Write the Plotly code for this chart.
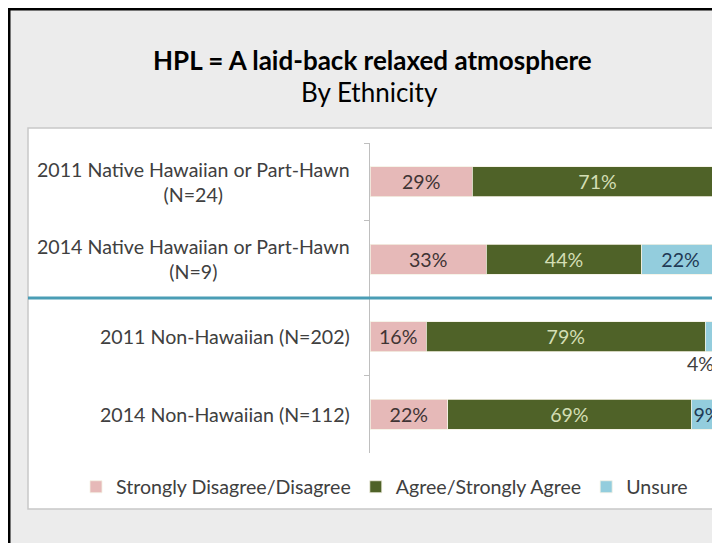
import plotly.graph_objects as go

# ---- data ----
categories = [
    "2011 Native Hawaiian or Part-Hawn<br>(N=24)",
    "2014 Native Hawaiian or Part-Hawn<br>(N=9)",
    "2011 Non-Hawaiian (N=202)",
    "2014 Non-Hawaiian (N=112)",
]
disagree = [29, 33, 16, 22]
agree = [71, 44, 79, 69]
unsure = [0, 22, 4, 9]
series_names = ["Strongly Disagree/Disagree", "Agree/Strongly Agree", "Unsure"]
title_text = "HPL = A laid-back relaxed atmosphere"
subtitle_text = "By Ethnicity"

# ---- geometry (page pixels; the page body has an 8px margin) ----
OFF = 8
W, H = 720 - OFF, 543 - OFF
L, R, T, B = 370 - OFF, 720 - OFF, 143 - OFF, 453 - OFF
def px(x):  # page pixel x -> paper
    return (x - OFF - L) / (R - L)
def py(y):  # page pixel y -> paper
    return (B - (y - OFF)) / (B - T)

FONT = "Lato"
FS = 19.6
colors = ["#E6B9B8", "#4F6228", "#93CDDD"]
text_colors = ["#3F3434", "#D3DEB4", "#1F3A55"]

fig = go.Figure()
vals = [disagree, agree, unsure]
for i, (name, v) in enumerate(zip(series_names, vals)):
    texts = []
    for val in v:
        if val == 0 or (i == 2 and val < 5):
            texts.append("")
        else:
            texts.append(f"{val}%")
    fig.add_trace(go.Bar(
        y=categories, x=v, name=name, orientation="h",
        marker=dict(color=colors[i], line=dict(color="#F4F1E4", width=0.8)),
        text=texts, textposition="inside", insidetextanchor="middle",
        textangle=0, constraintext="none",
        textfont=dict(family=FONT, size=FS, color=text_colors[i]),
        hoverinfo="skip",
    ))

annotations = []
# small Unsure value shown below its bar
for j, val in enumerate(unsure):
    if 0 < val < 5:
        annotations.append(dict(
            x=disagree[j] + agree[j] + val / 2, y=categories[j], xref="x", yref="y",
            text=f"{val}%", showarrow=False, yshift=-27, xshift=-12,
            font=dict(family=FONT, size=FS, color="#3F3F3F"),
        ))
# category labels (centered multi-line)
for c in categories:
    annotations.append(dict(
        x=px(352), y=c, xref="paper", yref="y", xanchor="right", yanchor="middle",
        text=c, showarrow=False, align="center",
        font=dict(family=FONT, size=FS, color="#404040"),
    ))
# title + subtitle
annotations.append(dict(
    x=px(372), y=py(60), xref="paper", yref="paper", xanchor="center", yanchor="middle",
    text=f"<b>{title_text}</b>", showarrow=False,
    font=dict(family=FONT, size=26, color="#000000"),
))
annotations.append(dict(
    x=px(369), y=py(92), xref="paper", yref="paper", xanchor="center", yanchor="middle",
    text=subtitle_text, showarrow=False,
    font=dict(family=FONT, size=26, color="#000000"),
))

shapes = [
    # white panel
    dict(type="rect", xref="paper", yref="paper", x0=px(28), x1=px(730), y0=py(509), y1=py(128),
         fillcolor="white", line=dict(color="#C8C8C8", width=1.5), layer="below"),
    # separator line between groups
    dict(type="line", xref="paper", yref="y", x0=px(28), x1=px(730), y0=1.5, y1=1.5,
         line=dict(color="#4A9DB5", width=3)),
    # black frame edges (top, left)
    dict(type="line", xref="paper", yref="paper", x0=px(8), x1=px(730), y0=py(9), y1=py(9),
         line=dict(color="black", width=3)),
    dict(type="line", xref="paper", yref="paper", x0=px(9), x1=px(9), y0=py(8), y1=py(560),
         line=dict(color="black", width=3)),
]

fig.update_layout(
    width=W, height=H,
    margin=dict(l=L, r=W - R, t=T, b=H - B),
    barmode="stack", bargap=0.61,
    paper_bgcolor="#ECECEC", plot_bgcolor="rgba(0,0,0,0)",
    font=dict(family=FONT, size=FS, color="#404040"),
    xaxis=dict(range=[0, 99.2], visible=False, fixedrange=True),
    yaxis=dict(type="category", categoryorder="array", categoryarray=categories,
               autorange="reversed", showline=True, linecolor="#BFBFBF", linewidth=1,
               ticks="outside", tickson="boundaries", ticklen=5, tickcolor="#BFBFBF",
               showticklabels=False, showgrid=False, zeroline=False, fixedrange=True),
    legend=dict(orientation="h", x=px(76), xanchor="left", y=py(487), yanchor="middle",
                font=dict(family=FONT, size=FS, color="#404040"), bgcolor="rgba(0,0,0,0)",
                traceorder="normal", itemwidth=30),
    annotations=annotations, shapes=shapes,
    showlegend=True,
)

fig.write_html("out.html")
